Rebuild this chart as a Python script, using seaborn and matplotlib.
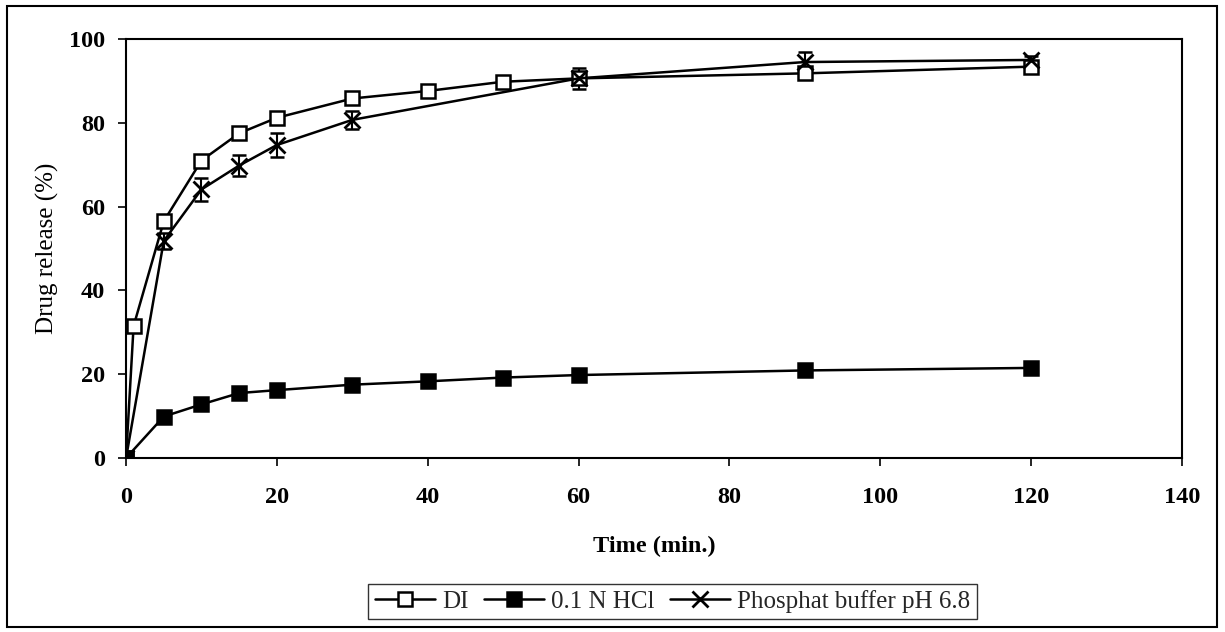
import matplotlib
matplotlib.use("Agg")
import matplotlib.pyplot as plt
import seaborn as sns
import pandas as pd
from matplotlib.lines import Line2D
from matplotlib.patches import Rectangle

# Dissolution data: cumulative drug release (%) versus time (min.)
di_time = [0, 1, 5, 10, 15, 20, 30, 40, 50, 60, 90, 120]
di_release = [0.0, 31.5, 56.5, 71.0, 77.5, 81.2, 85.8, 87.6, 89.8, 90.6, 91.8, 93.4]
di_sd = [0.3, 0.6, 0.8, 0.8, 0.8, 0.7, 0.6, 0.5, 0.5, 0.6, 0.8, 0.5]

hcl_time = [0, 5, 10, 15, 20, 30, 40, 50, 60, 90, 120]
hcl_release = [0.0, 9.9, 12.8, 15.5, 16.2, 17.5, 18.3, 19.2, 19.8, 20.9, 21.5]
hcl_sd = [0.2, 0.5, 0.5, 0.5, 0.4, 0.4, 0.4, 0.3, 0.3, 0.4, 0.4]

pb_time = [0, 5, 10, 15, 20, 30, 60, 90, 120]
pb_release = [0.0, 51.8, 64.1, 69.8, 74.7, 80.7, 90.6, 94.5, 95.0]
pb_sd = [1.5, 2.0, 2.7, 2.6, 2.8, 2.2, 2.5, 2.5, 1.0]

series_labels = ["DI", "0.1 N HCl", "Phosphat buffer pH 6.8"]
x_ticks = [0, 20, 40, 60, 80, 100, 120, 140]
y_ticks = [0, 20, 40, 60, 80, 100]

sns.set_theme(style="white")
plt.rcParams["font.family"] = ["Liberation Serif", "DejaVu Serif"]

fig = plt.figure(figsize=(12.25, 6.32), dpi=100)
ax = fig.add_axes([0.1029, 0.2753, 0.8620, 0.6630])

line_kw = dict(color="black", linewidth=1.8, markersize=9.5,
               markeredgewidth=1.8, markeredgecolor="black")

frames = [
    (pd.DataFrame({"t": di_time, "r": di_release}), di_sd,
     dict(marker="s", markerfacecolor="white")),
    (pd.DataFrame({"t": hcl_time, "r": hcl_release}), hcl_sd,
     dict(marker="s", markerfacecolor="black")),
    (pd.DataFrame({"t": pb_time, "r": pb_release}), pb_sd,
     dict(marker="x", markersize=11, markeredgewidth=2.0)),
]

handles = []
for (df, sd, mk), label in zip(frames, series_labels):
    ax.errorbar(df["t"], df["r"], yerr=sd, fmt="none", ecolor="black",
                elinewidth=1.5, capsize=5, capthick=1.8, zorder=2)
    kw = dict(line_kw)
    kw.update(mk)
    sns.lineplot(data=df, x="t", y="r", ax=ax, zorder=3, **kw)
    handles.append(Line2D([], [], label=label, **kw))

ax.set_xlim(0, 140)
ax.set_ylim(0, 100)
ax.set_xticks(x_ticks)
ax.set_yticks(y_ticks)
ax.set_xticklabels([str(v) for v in x_ticks], fontsize=17.5, fontweight="bold")
ax.set_yticklabels([str(v) for v in y_ticks], fontsize=17.5, fontweight="bold")
ax.tick_params(axis="both", direction="out", length=6, width=1.2,
               color="black", labelcolor="black", bottom=True, left=True)
ax.tick_params(axis="x", pad=15)
ax.tick_params(axis="y", pad=9)
for s in ax.spines.values():
    s.set_visible(True)
    s.set_color("black")
    s.set_linewidth(1.5)

ax.set_xlabel("Time (min.)", fontsize=17.5, fontweight="bold", labelpad=20,
              color="black")
ax.set_ylabel("Drug release (%)", fontsize=18, labelpad=7, color="black")

leg = fig.legend(handles=handles, loc="center", bbox_to_anchor=(0.549, 0.048),
                 ncol=3, frameon=True, fancybox=False, fontsize=18,
                 handlelength=2.4, handletextpad=0.3, columnspacing=0.6,
                 borderpad=0.25, borderaxespad=0)
leg.get_frame().set_edgecolor("black")
leg.get_frame().set_linewidth(1.0)

# Outer frame around the whole figure
fig.patches.append(Rectangle((7 / 1225, 5 / 632), 1210 / 1225, 621 / 632,
                             transform=fig.transFigure, fill=False,
                             edgecolor="black", linewidth=1.5))

fig.savefig("out.png", dpi=100, facecolor="white")
